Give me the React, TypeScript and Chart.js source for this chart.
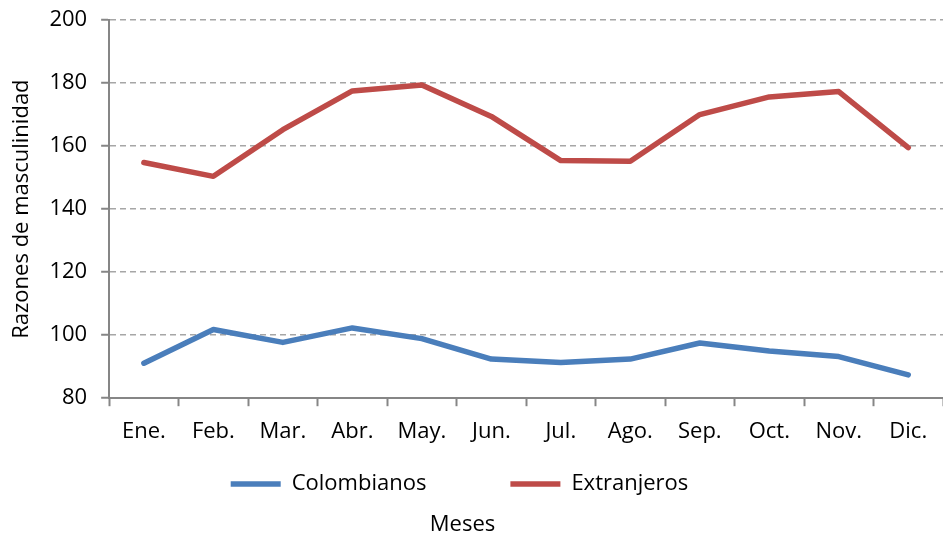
import React, { useEffect, useRef } from "react";
import { Chart, registerables } from "chart.js";

Chart.register(...registerables);

const months = ["Ene.", "Feb.", "Mar.", "Abr.", "May.", "Jun.", "Jul.", "Ago.", "Sep.", "Oct.", "Nov.", "Dic."];
const colombianos = [91.1, 101.8, 97.7, 102.3, 98.9, 92.4, 91.3, 92.4, 97.5, 95.0, 93.2, 87.4];
const extranjeros = [154.8, 150.4, 165.2, 177.5, 179.4, 169.4, 155.4, 155.2, 170.0, 175.6, 177.3, 159.5];
const yMin = 80;
const yMax = 200;
const yStep = 20;

const FONT = "'Open Sans', sans-serif";
const FS = 22;
const LEGEND_PAD = 84;
const LEGEND_ITEM_TOP = 473;

const legendShift = {
  id: "legendShift",
  afterLayout(chart: any) {
    const lg = chart.legend;
    if (lg) {
      const newTop = LEGEND_ITEM_TOP - LEGEND_PAD;
      const bottom = lg.bottom;
      lg.top = newTop;
      lg.height = bottom - newTop;
      lg.left -= 26;
      lg.width += 26;
    }
    const tb = chart.titleBlock;
    if (tb) {
      tb.left -= 20;
      tb.width += 20;
    }
  },
};

export default function App() {
  const ref = useRef<HTMLCanvasElement | null>(null);
  useEffect(() => {
    document.body.style.margin = "0";
    const canvas = ref.current;
    if (!canvas) return;
    const chart = new Chart(canvas, {
      type: "line",
      data: {
        labels: months,
        datasets: [
          {
            label: "Colombianos",
            data: colombianos,
            borderColor: "#4a7ebb",
            backgroundColor: "#4a7ebb",
            borderWidth: 5.5,
            pointRadius: 0,
            pointStyle: "line",
            borderCapStyle: "round",
            borderJoinStyle: "round",
            tension: 0,
          },
          {
            label: "Extranjeros",
            data: extranjeros,
            borderColor: "#be4b48",
            backgroundColor: "#be4b48",
            borderWidth: 5.5,
            pointRadius: 0,
            pointStyle: "line",
            borderCapStyle: "round",
            borderJoinStyle: "round",
            tension: 0,
          },
        ],
      },
      plugins: [legendShift],
      options: {
        animation: false,
        responsive: false,
        maintainAspectRatio: false,
        layout: { padding: { top: 6, right: 0, bottom: 0, left: 2 } },
        font: { family: FONT, size: FS },
        plugins: {
          tooltip: { enabled: false },
          legend: {
            position: "bottom",
            maxHeight: 48,
            labels: {
              usePointStyle: true,
              pointStyle: "line",
              pointStyleWidth: 50,
              color: "#000",
              font: { family: FONT, size: FS },
              padding: LEGEND_PAD,
            },
          },
          title: {
            display: true,
            position: "bottom",
            text: "Meses",
            color: "#000",
            font: { family: FONT, size: FS, weight: "normal" },
            padding: { top: 7, bottom: 0 },
          },
        },
        scales: {
          x: {
            type: "category",
            offset: true,
            grid: {
              display: true,
              offset: true,
              drawOnChartArea: false,
              drawTicks: true,
              tickLength: 8,
              tickColor: "#868686",
              tickWidth: 2,
            },
            border: { display: true, color: "#868686", width: 2 },
            ticks: { color: "#000", font: { family: FONT, size: FS }, padding: 12, maxRotation: 0, autoSkip: false },
          },
          y: {
            min: yMin,
            max: yMax,
            afterFit: (scale: any) => {
              scale.paddingTop = 20;
              scale.paddingBottom = 13;
            },
            ticks: { stepSize: yStep, color: "#000", font: { family: FONT, size: FS }, padding: 14 },
            grid: {
              color: "#a6a6a6",
              lineWidth: 1.5,
              tickLength: 8,
              tickColor: "#868686",
              tickWidth: 2,
            },
            border: { display: true, color: "#868686", width: 2, dash: [6, 4] },
            title: {
              display: true,
              text: "Razones de masculinidad",
              color: "#000",
              font: { family: FONT, size: FS },
              padding: { top: 7, bottom: 0 },
            },
          },
        },
      },
    });
    return () => chart.destroy();
  }, []);
  return <canvas ref={ref} width={943} height={538} style={{ display: "block" }} />;
}
